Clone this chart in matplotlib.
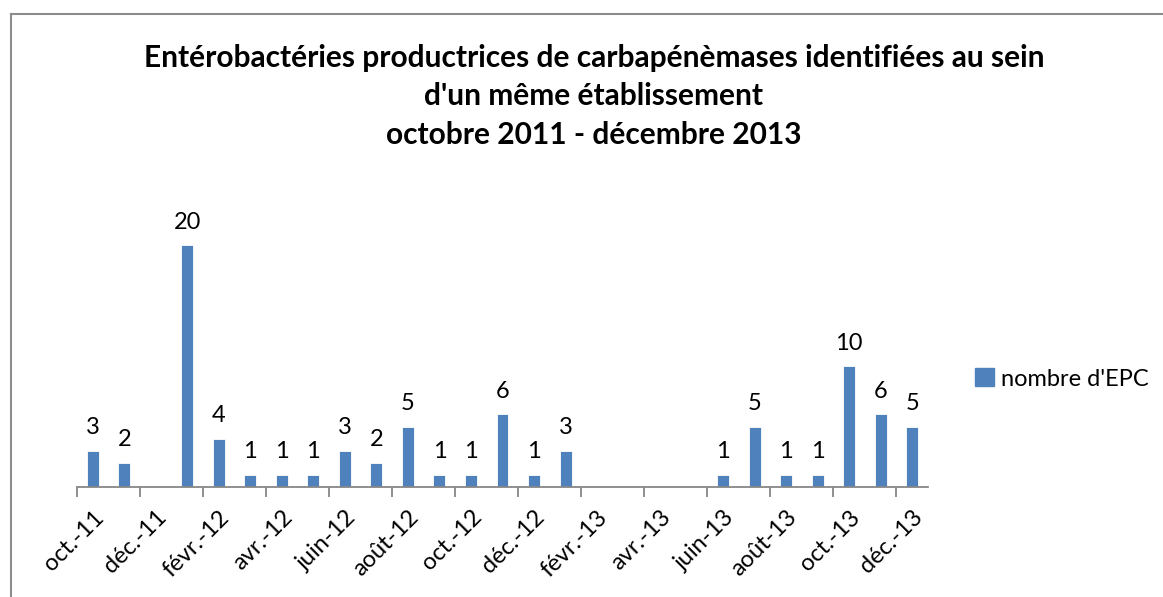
import matplotlib
matplotlib.use("Agg")
import matplotlib.pyplot as plt
import numpy as np
from matplotlib.lines import Line2D
from matplotlib.patches import Patch

plt.rcParams['font.family'] = ['Lato', 'DejaVu Sans']

# monthly counts, oct. 2011 -> déc. 2013 (0 = no bar)
months = ["oct.-11", "nov.-11", "déc.-11", "janv.-12", "févr.-12", "mars-12",
          "avr.-12", "mai-12", "juin-12", "juil.-12", "août-12", "sept.-12",
          "oct.-12", "nov.-12", "déc.-12", "janv.-13", "févr.-13", "mars-13",
          "avr.-13", "mai-13", "juin-13", "juil.-13", "août-13", "sept.-13",
          "oct.-13", "nov.-13", "déc.-13"]
nombre_epc = [3, 2, 0, 20, 4, 1, 1, 1, 3, 2, 5, 1, 1, 6, 1, 3,
              0, 0, 0, 0, 1, 5, 1, 1, 10, 6, 5]

title = ("Entérobactéries productrices de carbapénèmases identifiées au sein\n"
         "d'un même établissement\n"
         "octobre 2011 - décembre 2013")
bar_color = "#4F81BD"

fig = plt.figure(figsize=(11.63, 5.97), dpi=100)
ax = fig.add_axes([77 / 1163, 110 / 597, 851 / 1163, 266 / 597])

x = np.arange(len(months))
vals = np.array(nombre_epc, dtype=float)
ax.bar(x, vals, width=0.38, color=bar_color, edgecolor="#ffffff",
       linewidth=0.6, zorder=2)
for xi, v in zip(x, nombre_epc):
    if v > 0:
        ax.annotate(str(v), (xi, v), xytext=(0, 9), textcoords="offset points",
                    ha="center", va="bottom", fontsize=17, color="black")

ax.set_xlim(-0.5, len(months) - 0.5)
ax.set_ylim(0, 22)
ax.set_yticks([])
for s in ["top", "right", "left"]:
    ax.spines[s].set_visible(False)
ax.spines["bottom"].set_color("#878787")
ax.spines["bottom"].set_linewidth(1.3)

# labels every two months, tick marks on the category boundaries
ax.set_xticks(x[::2])
ax.set_xticklabels(months[::2], rotation=45, ha="right", va="top",
                   rotation_mode="anchor", fontsize=17)
ax.tick_params(axis="x", which="major", length=0, pad=14)
ax.set_xticks(x[::2] - 0.5, minor=True)
ax.tick_params(axis="x", which="minor", length=7, width=1.3, color="#878787")

fig.text(594 / 1163, 1 - 44 / 597, title, ha="center", va="top",
         fontsize=21.5, fontweight="bold", linespacing=1.45)

fig.legend(handles=[Patch(facecolor=bar_color, edgecolor=bar_color)],
           labels=["nombre d'EPC"], loc="center left",
           bbox_to_anchor=(968 / 1163, 1 - 379 / 597), frameon=False,
           borderaxespad=0, borderpad=0.3,
           fontsize=17, handlelength=0.8, handleheight=0.8, handletextpad=0.3)

# chart area border (only top and left visible in the crop)
fig.add_artist(Line2D([11 / 1163, 1], [1 - 14 / 597, 1 - 14 / 597],
                      transform=fig.transFigure, color="#8c8c8c", lw=1.5))
fig.add_artist(Line2D([11 / 1163, 11 / 1163], [0, 1 - 14 / 597],
                      transform=fig.transFigure, color="#8c8c8c", lw=1.5))

fig.savefig("out.png", dpi=100)
